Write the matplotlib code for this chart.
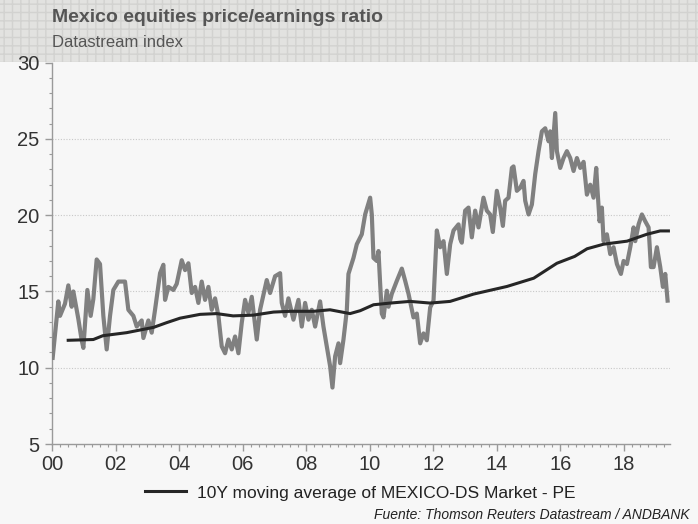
import matplotlib
matplotlib.use("Agg")
import matplotlib.pyplot as plt
from matplotlib.patches import Rectangle
from matplotlib.ticker import MultipleLocator, FixedLocator
import numpy as np

plt.rcParams['font.family'] = ['Liberation Sans', 'DejaVu Sans']

# ---- data (years since 2000, P/E) ----
pe_years = [0.021, 0.199, 0.252, 0.409, 0.514, 0.619, 0.672, 0.829, 0.934, 0.987,
            1.113, 1.217, 1.301, 1.406, 1.511, 1.616, 1.721, 1.826, 1.931, 2.089,
            2.298, 2.403, 2.561, 2.666, 2.823, 2.876, 3.033, 3.138, 3.243, 3.401,
            3.505, 3.558, 3.663, 3.820, 3.925, 4.083, 4.188, 4.293, 4.398, 4.503,
            4.607, 4.712, 4.817, 4.922, 5.027, 5.132, 5.237, 5.342, 5.447, 5.552,
            5.657, 5.762, 5.867, 5.972, 6.077, 6.182, 6.287, 6.444, 6.549, 6.759,
            6.864, 7.021, 7.179, 7.231, 7.336, 7.441, 7.599, 7.756, 7.861, 7.966,
            8.071, 8.176, 8.281, 8.438, 8.543, 8.648, 8.753, 8.827, 8.911, 9.016,
            9.068, 9.173, 9.278, 9.330, 9.488, 9.593, 9.750, 9.855, 10.013, 10.065,
            10.118, 10.222, 10.275, 10.328, 10.380, 10.433, 10.538, 10.591, 10.695, 10.853,
            11.010, 11.115, 11.220, 11.377, 11.482, 11.587, 11.692, 11.797, 11.902, 12.007,
            12.112, 12.217, 12.322, 12.427, 12.532, 12.637, 12.794, 12.847, 12.898, 13.003,
            13.108, 13.213, 13.318, 13.423, 13.580, 13.685, 13.790, 13.874, 14.000, 14.105,
            14.190, 14.263, 14.368, 14.473, 14.525, 14.630, 14.735, 14.840, 14.893, 14.998,
            15.103, 15.208, 15.313, 15.418, 15.523, 15.628, 15.680, 15.733, 15.838, 15.890,
            15.995, 16.100, 16.205, 16.310, 16.415, 16.520, 16.625, 16.730, 16.835, 16.940,
            17.044, 17.128, 17.170, 17.233, 17.306, 17.359, 17.464, 17.569, 17.674, 17.779,
            17.905, 17.989, 18.094, 18.199, 18.304, 18.356, 18.461, 18.566, 18.671, 18.776,
            18.849, 18.933, 19.038, 19.143, 19.227, 19.301, 19.374]
pe_values = [10.65, 14.35, 13.4, 14.2, 15.4, 14.0, 15.0, 13.2, 11.8, 11.3,
             15.1, 13.4, 14.5, 17.1, 16.8, 13.4, 11.2, 13.4, 15.1, 15.65,
             15.65, 13.8, 13.4, 12.7, 13.1, 11.95, 13.1, 12.3, 13.8, 16.2,
             16.75, 14.45, 15.3, 15.1, 15.5, 17.05, 16.4, 16.85, 14.9, 15.3,
             14.25, 15.65, 14.45, 15.3, 13.8, 14.55, 13.4, 11.4, 10.95, 11.85,
             11.2, 12.05, 10.95, 12.95, 14.45, 13.6, 14.65, 11.85, 13.8, 15.75,
             14.9, 16.0, 16.2, 14.25, 13.4, 14.55, 13.15, 14.45, 12.7, 14.25,
             13.15, 13.8, 12.7, 14.35, 12.7, 11.4, 10.1, 8.7, 10.75, 11.6,
             10.3, 11.85, 13.75, 16.15, 17.2, 18.1, 18.75, 20.05, 21.15, 20.05,
             17.2, 17.0, 17.65, 15.5, 13.55, 13.3, 15.05, 14.0, 14.85, 15.7,
             16.5, 15.7, 14.85, 13.3, 13.55, 11.6, 12.25, 11.8, 13.95, 14.4,
             19.0, 17.9, 18.3, 16.15, 18.1, 19.0, 19.4, 18.45, 18.2, 20.3,
             20.5, 18.55, 20.3, 19.2, 21.15, 20.3, 20.05, 18.9, 21.6, 20.5,
             19.3, 20.95, 21.15, 23.1, 23.2, 21.6, 21.8, 22.25, 20.95, 20.05,
             20.7, 22.7, 24.2, 25.5, 25.7, 24.85, 25.5, 23.75, 26.7, 24.2,
             23.1, 23.75, 24.2, 23.75, 22.9, 23.75, 23.1, 23.5, 21.35, 22.0,
             21.15, 23.1, 21.6, 19.6, 20.5, 18.3, 18.75, 17.45, 17.9, 16.8,
             16.15, 17.0, 16.8, 17.9, 19.2, 18.3, 19.4, 20.05, 19.6, 19.2,
             16.6, 16.6, 17.9, 16.6, 15.3, 16.15, 14.4]

ma_years = [0.51, 1.3, 1.6, 2.35, 3.2, 3.6, 4.03, 4.66, 5.18, 5.7, 6.34, 6.97, 7.49,
            8.23, 8.75, 9.38, 9.70, 10.12, 10.64, 11.27, 11.9, 12.53, 13.27, 14.32,
            15.16, 15.89, 16.45, 16.84, 17.36, 18.1, 18.72, 19.14, 19.4]
ma_values = [11.8, 11.85, 12.1, 12.3, 12.65, 12.95, 13.25, 13.5, 13.55, 13.4, 13.45,
             13.65, 13.7, 13.7, 13.8, 13.55, 13.74, 14.13, 14.24, 14.35, 14.24, 14.35,
             14.83, 15.33, 15.87, 16.85, 17.3, 17.8, 18.1, 18.3, 18.75, 18.97, 18.97]

xtick_years = [2000, 2002, 2004, 2006, 2008, 2010, 2012, 2014, 2016, 2018]
xtick_labels = ['00', '02', '04', '06', '08', '10', '12', '14', '16', '18']

title = "Mexico equities price/earnings ratio"
subtitle = "Datastream index"
legend_label = "10Y moving average of MEXICO-DS Market - PE"
source = "Fuente: Thomson Reuters Datastream / ANDBANK"

W, H = 698, 524
fig = plt.figure(figsize=(W / 100, H / 100), dpi=100)
fig.patch.set_facecolor('#f7f7f7')

# header band
fig.patches.append(Rectangle((0, 1 - 62 / H), 1, 62 / H, transform=fig.transFigure,
                             facecolor='#e2e2e0', edgecolor='#d2d2d0', hatch='++',
                             linewidth=0, zorder=-1))
fig.text(52 / W, 1 - 18 / H, title, fontsize=14, fontweight='bold', color='#555555',
         ha='left', va='center')
fig.text(52 / W, 1 - 43 / H, subtitle, fontsize=12, color='#555555', ha='left', va='center')

ax = fig.add_axes([52 / W, 1 - 444 / H, (670 - 52) / W, (444 - 62.7) / H])
ax.set_facecolor('#f7f7f7')
ax.patch.set_alpha(0)

px = [2000 + y for y in pe_years]
mx = [2000 + y for y in ma_years]
ax.plot(px, pe_values, color='#808080', linewidth=3.0, solid_joinstyle='round', zorder=3)
ma_line, = ax.plot(mx, ma_values, color='#262626', linewidth=2.2, zorder=4)

ax.set_xlim(2000, 2019.45)
ax.set_ylim(5, 30)
ax.yaxis.set_major_locator(MultipleLocator(5))
ax.yaxis.set_minor_locator(MultipleLocator(1))
ax.xaxis.set_major_locator(FixedLocator(xtick_years))
ax.set_xticklabels(xtick_labels)
ax.xaxis.set_minor_locator(MultipleLocator(0.25))

for s in ['top', 'right']:
    ax.spines[s].set_visible(False)
for s in ['left', 'bottom']:
    ax.spines[s].set_color('#9a9a9a')
    ax.spines[s].set_linewidth(1.0)

ax.tick_params(axis='both', which='major', direction='out', length=5, width=1,
               color='#9a9a9a', labelsize=14.5, labelcolor='#333333')
ax.tick_params(axis='both', which='minor', direction='out', length=2.5, width=0.8,
               color='#9a9a9a')
ax.tick_params(axis='x', which='major', pad=3)
ax.tick_params(axis='y', which='major', pad=4)

for v in [10, 15, 20, 25]:
    ax.axhline(v, color='#c8c8c8', linewidth=0.8, linestyle=(0, (1, 1.5)), zorder=1)

leg = fig.legend([ma_line], [legend_label], loc='center', bbox_to_anchor=(360 / W, 1 - 493 / H),
                 frameon=False, fontsize=12.5, handlelength=2.4, handletextpad=0.6)
for t in leg.get_texts():
    t.set_color('#222222')

fig.text(690 / W, 1 - 515 / H, source, fontsize=10, style='italic', color='#222222',
         ha='right', va='center')

fig.savefig('out.png', dpi=100, facecolor=fig.get_facecolor())
